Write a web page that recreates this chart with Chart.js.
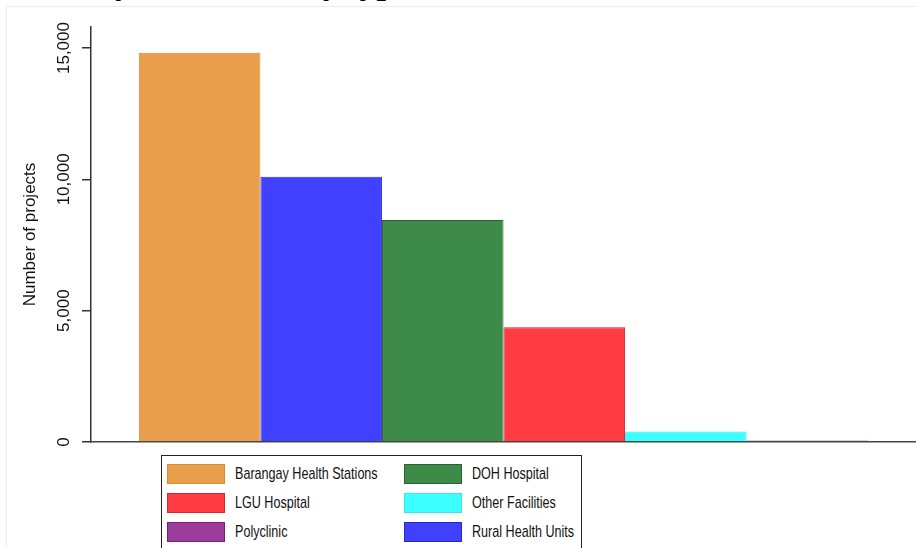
<!DOCTYPE html>
<html>
<head>
<meta charset="utf-8">
<script src="https://cdn.jsdelivr.net/npm/chart.js@4"></script>
<style>
  html, body { margin: 0; padding: 0; background: #fff; }
  body { width: 916px; height: 548px; overflow: hidden; position: relative; font-family: Arial, "Liberation Sans", sans-serif; }
  #frame { position: absolute; left: 6px; top: 6px; width: 930px; height: 560px; border: 1px solid #ececec; }
  #title { position: absolute; left: 96px; top: -34px; font: bold 34px "Liberation Serif", "Times New Roman", serif; line-height: 34px; color: #000; white-space: nowrap; }
  #wrap { position: absolute; left: 0; top: 0; width: 916px; height: 548px; }
  #legend { position: absolute; left: 161px; top: 455px; width: 419px; height: 110px; border: 1.5px solid #222; background: #fff; }
  .item { position: absolute; height: 20px; }
  .sw { position: absolute; left: 0; top: 0; width: 56px; height: 18px; border: 1px solid; }
  .lab { position: absolute; left: 68px; top: -1px; font-size: 17px; line-height: 21px; color: #111; white-space: nowrap; transform: scaleX(0.74); transform-origin: left center; }
</style>
</head>
<body>
<div id="frame"></div>
<div id="title">by health facility type</div>
<div id="wrap"><canvas id="myChart" width="916" height="548"></canvas></div>
<div id="legend"></div>
<script>
// bars in plotted order
const facilities = ["Barangay Health Stations", "Rural Health Units", "DOH Hospital", "LGU Hospital", "Other Facilities", "Polyclinic"];
const projects = [14820, 10100, 8450, 4370, 400, 60];
const barColors = ["rgb(232,158,74)", "rgb(64,64,255)", "rgb(62,138,72)", "rgb(255,60,66)", "rgb(60,255,255)", "rgb(155,60,155)"];
const edgeColors = ["rgb(215,140,60)", "rgb(40,40,200)", "rgb(40,100,50)", "rgb(210,40,50)", "rgb(60,230,230)", "rgb(120,30,120)"];
const yTicks = [0, 5000, 10000, 15000];
// legend is alphabetical, two columns
const legendOrder = ["Barangay Health Stations", "DOH Hospital", "LGU Hospital", "Other Facilities", "Polyclinic", "Rural Health Units"];

const legend = document.getElementById("legend");
legendOrder.forEach((name, i) => {
  const k = facilities.indexOf(name);
  const col = i % 2, row = Math.floor(i / 2);
  const el = document.createElement("div");
  el.className = "item";
  el.style.left = (col === 0 ? 5 : 242) + "px";
  el.style.top = (8 + row * 29) + "px";
  el.innerHTML = '<div class="sw" style="background:' + barColors[k] + ';border-color:' + edgeColors[k] + '"></div>' +
    '<span class="lab">' + name + '</span>';
  legend.appendChild(el);
});

const tickLabels = {
  id: "tickLabels",
  afterDraw(chart) {
    const s = chart.scales.y;
    const ctx = chart.ctx;
    ctx.save();
    ctx.font = "17px Arial, 'Liberation Sans', sans-serif";
    ctx.fillStyle = "#111";
    ctx.textAlign = "center";
    ctx.textBaseline = "middle";
    s.ticks.forEach((t) => {
      ctx.save();
      ctx.translate(s.right - 27, s.getPixelForValue(t.value));
      ctx.rotate(-Math.PI / 2);
      ctx.fillText(t.value.toLocaleString("en-US"), 0, 0);
      ctx.restore();
    });
    ctx.restore();
  },
};

const ctx = document.getElementById("myChart").getContext("2d");
const myChart = new Chart(ctx, {
  type: "bar",
  data: {
    labels: [""],
    datasets: facilities.map((name, i) => ({
      label: name,
      data: [projects[i]],
      backgroundColor: barColors[i],
      borderColor: edgeColors[i],
      borderWidth: 1,
    })),
  },
  options: {
    responsive: false,
    animation: false,
    layout: { padding: { top: 27, bottom: 106, left: 0, right: 0 } },
    datasets: { bar: { categoryPercentage: 0.884, barPercentage: 1 } },
    plugins: { legend: { display: false }, tooltip: { enabled: false } },
    scales: {
      x: {
        ticks: { display: false },
        grid: { display: false },
        border: { display: true, color: "#444", width: 1.5 },
        afterFit: (s) => { s.height = 0; },
      },
      y: {
        min: 0,
        max: 15800,
        afterBuildTicks: (s) => { s.ticks = yTicks.map((v) => ({ value: v })); },
        ticks: { display: false },
        grid: { drawOnChartArea: false, drawTicks: true, tickLength: 9, color: "#333", lineWidth: 1.5 },
        border: { display: true, color: "#333", width: 1.5 },
        title: {
          display: true,
          text: "Number of projects",
          color: "#111",
          font: { size: 17, family: "Arial, 'Liberation Sans', sans-serif" },
          padding: { top: 20, bottom: 0 },
        },
        afterFit: (s) => { s.width = 91; },
      },
    },
  },
  plugins: [tickLabels],
});
</script>
</body>
</html>
